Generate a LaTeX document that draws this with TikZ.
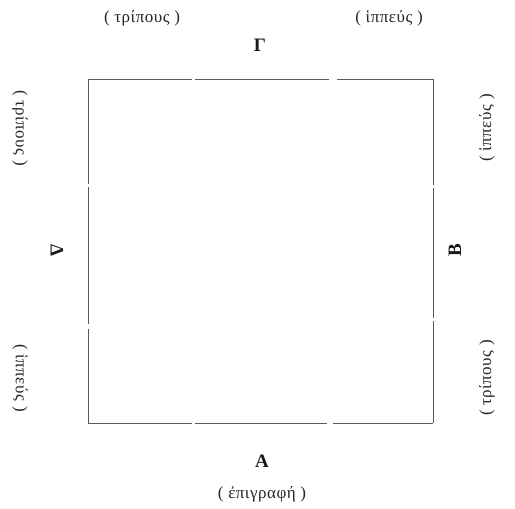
\documentclass[tikz,border=0pt]{standalone}
\usepackage{fontspec}
\setmainfont{Liberation Serif}
\newfontfamily\greeklab[LetterSpace=3]{Liberation Serif}
\begin{document}
\begin{tikzpicture}[x=1pt,y=-1pt,
  edge/.style={draw=black!65, line width=0.9pt},
  lab/.style={font=\greeklab\fontsize{17}{19}\selectfont, inner sep=0pt, text=black!85},
  letter/.style={font=\fontsize{19}{21}\selectfont\bfseries, inner sep=0pt, text=black!90}]
\useasboundingbox (0,0) rectangle (515,509);
% corners
\coordinate (tl) at (88,79);
\coordinate (tr) at (433,79);
\coordinate (bl) at (88,423);
\coordinate (br) at (433,423);
% top side
\draw[edge] (tl) -- (192,79);
\draw[edge] (195,79) -- (329,79);
\draw[edge] (337,79) -- (tr);
% bottom side
\draw[edge] (bl) -- (192,423);
\draw[edge] (195,423) -- (327,423);
\draw[edge] (333,423) -- (br);
% left side
\draw[edge] (tl) -- (88,184);
\draw[edge] (88,187) -- (88,324);
\draw[edge] (88,329) -- (bl);
% right side
\draw[edge] (tr) -- (433,185);
\draw[edge] (433,188) -- (433,318);
\draw[edge] (433,321) -- (br);
% top labels
\node[lab] (t1) at (142,18) {(\;τρίπους\;)};
\node[lab] (t2) at (389,18) {(\;ἱππεύς\;)};
\node[letter] (G) at (260,45) {Γ};
% bottom labels
\node[letter] (A) at (262,461) {Α};
\node[lab] (b1) at (262,494) {(\;ἐπιγραφή\;)};
% left labels
\node[lab, rotate=-90] (l1) at (20,128) {(\;τρίπους\;)};
\node[lab, rotate=-90] (l2) at (20,378) {(\;ἱππεύς\;)};
\node[letter, rotate=-90] (D) at (57,250) {Δ};
% right labels
\node[lab, rotate=90] (r1) at (487,128) {(\;ἱππεύς\;)};
\node[lab, rotate=90] (r2) at (487,378) {(\;τρίπους\;)};
\node[letter, rotate=90] (B) at (455,250) {Β};
\end{tikzpicture}
\end{document}
